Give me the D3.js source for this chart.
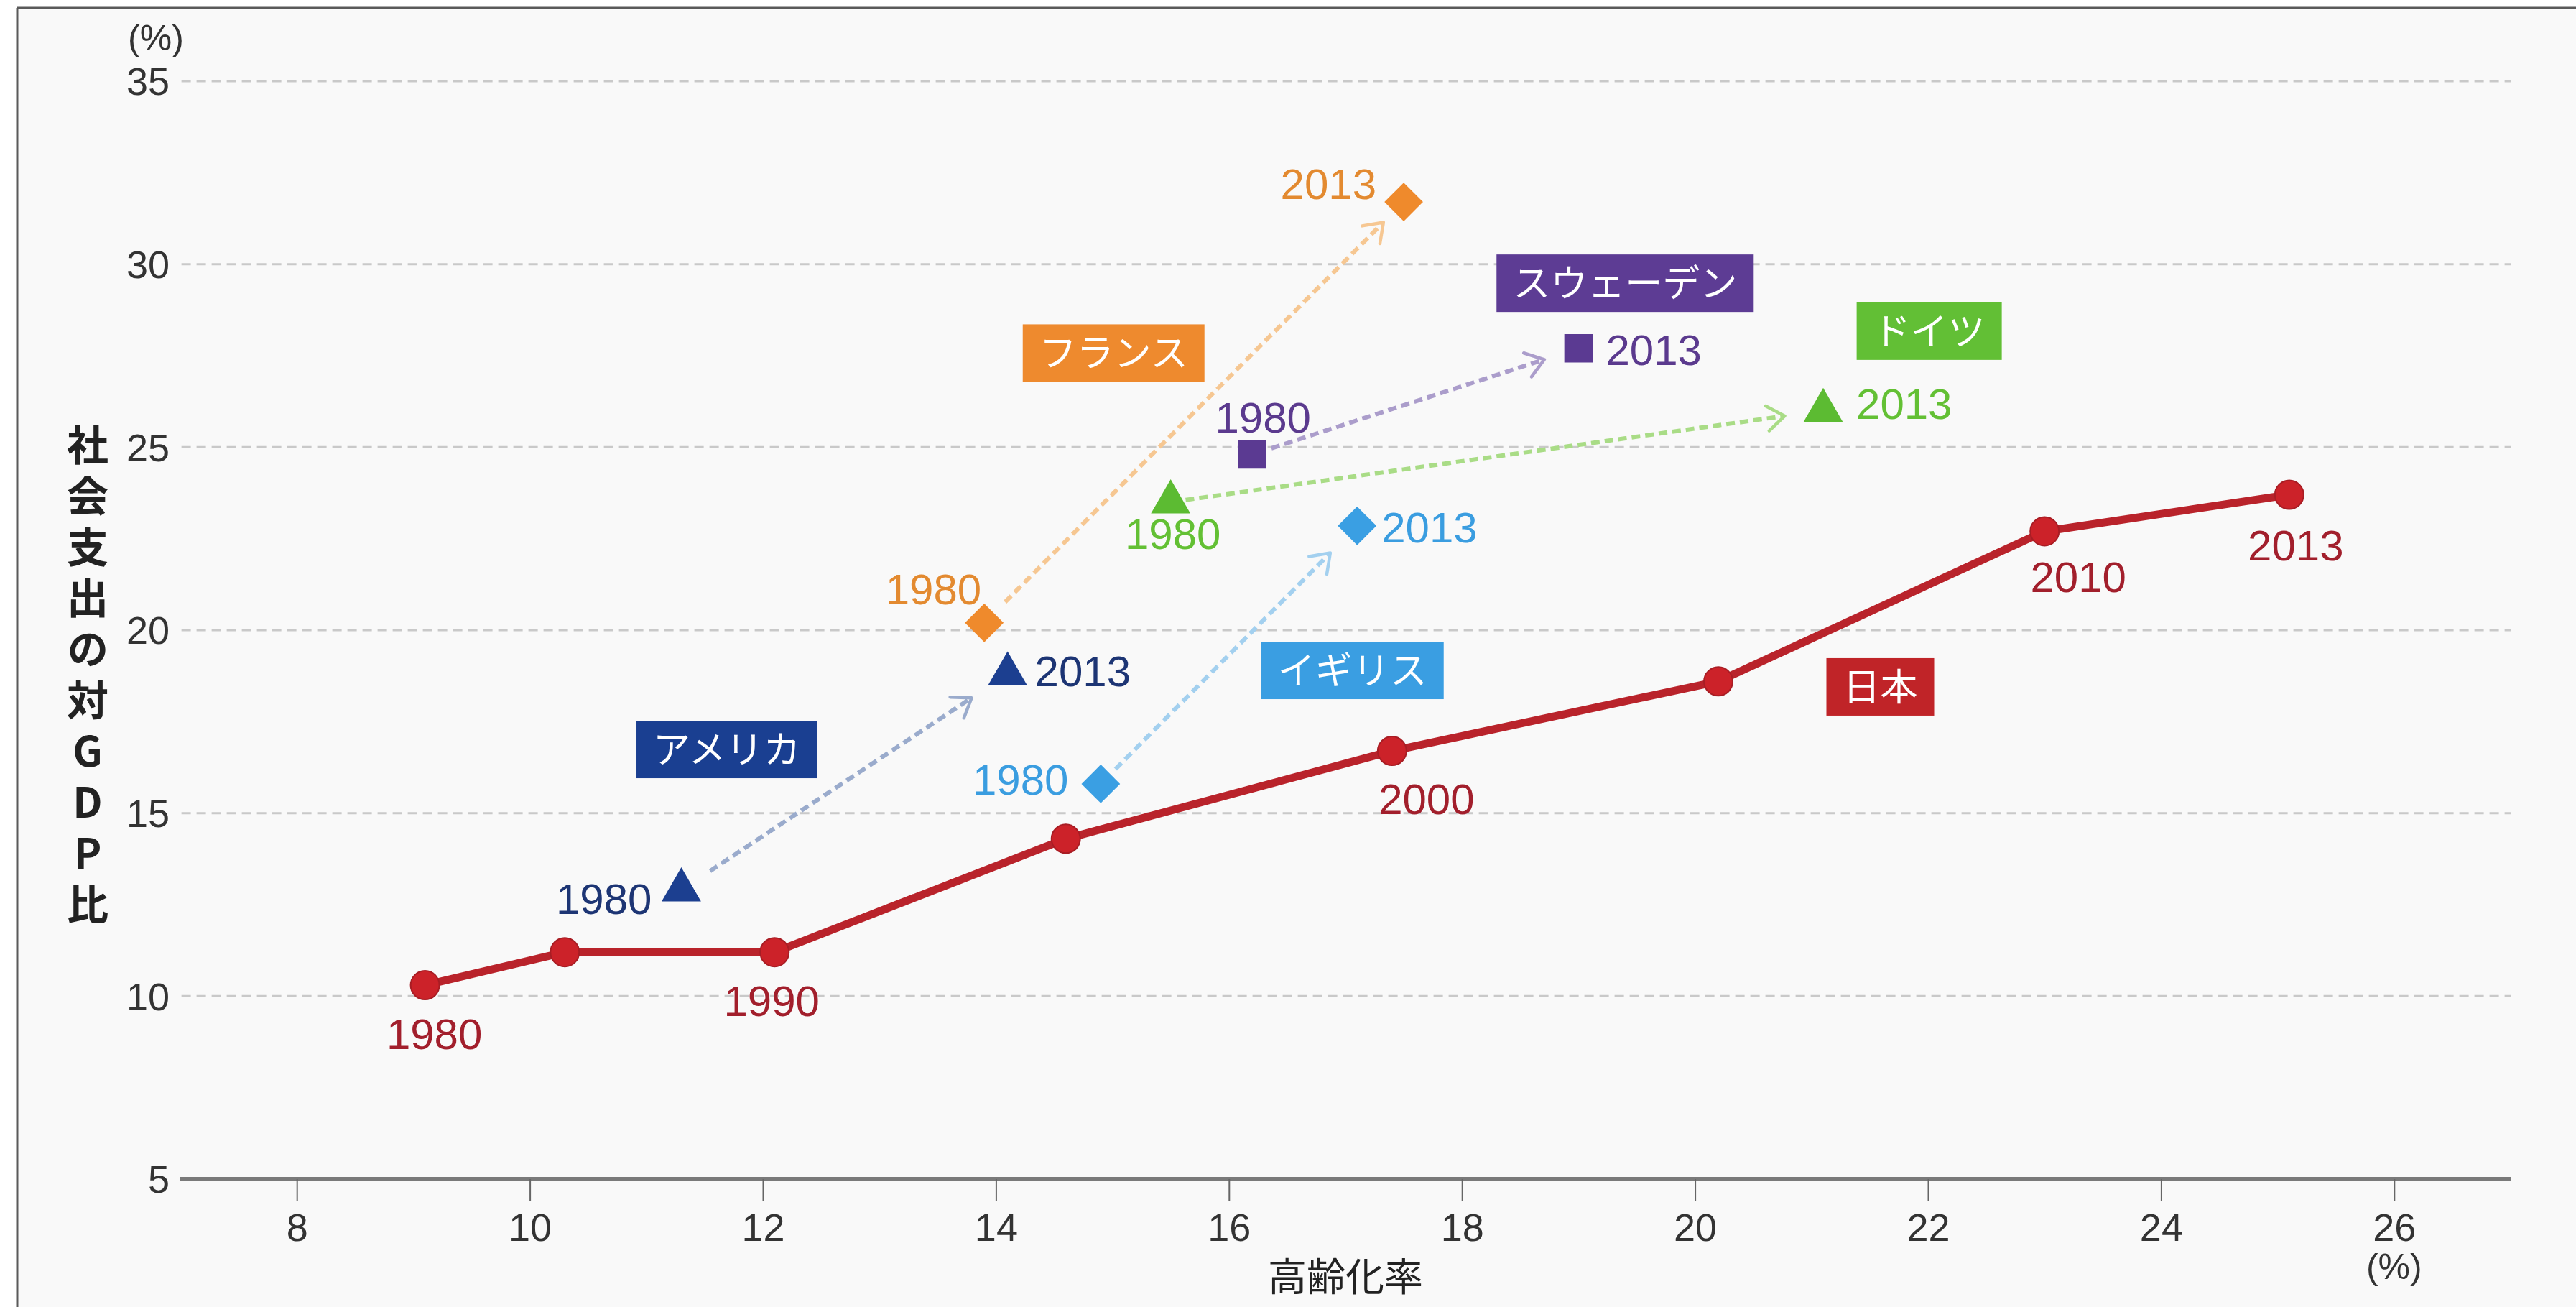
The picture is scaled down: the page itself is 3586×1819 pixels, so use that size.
<!DOCTYPE html>
<html>
<head>
<meta charset="utf-8">
<script src="https://cdn.jsdelivr.net/npm/d3@7"></script>
<style>
html,body{margin:0;padding:0;background:#ffffff;}
svg{display:block;}
text{font-family:"Liberation Sans","Noto Sans CJK JP",Arial,sans-serif;}
.jp{font-family:"Noto Sans CJK JP","Liberation Sans",sans-serif;}
.vt{font-family:"Noto Sans CJK JP",sans-serif;writing-mode:vertical-rl;text-orientation:upright;}
</style>
</head>
<body>
<svg id="chart" width="3586" height="1819"></svg>
<script>
// ---------- data ----------
const xTicks = [8, 10, 12, 14, 16, 18, 20, 22, 24, 26];
const yTicks = [5, 10, 15, 20, 25, 30, 35];

const japanYears = [1980, 1985, 1990, 1995, 2000, 2005, 2010, 2013];
const japanAging = [9.1, 10.3, 12.1, 14.6, 17.4, 20.2, 23.0, 25.1];
const japanSpend = [10.3, 11.2, 11.2, 14.3, 16.7, 18.6, 22.7, 23.7];
const japanLabelYears = [1980, 1990, 2000, 2010, 2013];

const countries = ["アメリカ", "フランス", "スウェーデン", "ドイツ", "イギリス"];
const aging1980 = [11.3, 13.9, 16.2, 15.5, 14.9];
const spend1980 = [12.9, 20.2, 24.8, 23.5, 15.8];
const aging2013 = [14.1, 17.5, 19.0, 21.1, 17.1];
const spend2013 = [18.8, 31.7, 27.7, 26.0, 22.85];
const yearLabels = ["1980", "2013"];

// ---------- style / annotation placement ----------
const W = 3586, H = 1819;
const markerShape = ["triangle", "diamond", "square", "triangle", "diamond"];
const markerColor = ["#1c3f90", "#ef8a2c", "#5b3a92", "#5cbb32", "#3a9fe3"];
const labelColor  = ["#1d3574", "#e38a30", "#5b3a8e", "#63c034", "#3a9de0"];
const arrowColor  = ["#9aabcc", "#f6c792", "#ab9dcb", "#a9dc86", "#a3d0ef"];
const boxColor    = ["#1a3f91", "#ee8a2e", "#5d3c94", "#62bf35", "#3a9ee2"];
const boxAtX = [11.69, 15.01, 19.40, 22.01, 17.06];
const boxAtY = [16.74, 27.57, 29.48, 28.17, 18.90];
const arrowGap = [[48, 60], [41, 40], [28, 50], [21, 54], [29, 53]];
// [anchor, dx, dy] for 1980 and 2013 labels
const lab1980 = [["end", -41, 33], ["end", -4, -26], ["middle", 15, -31], ["middle", 3, 65], ["end", -45, 15]];
const lab2013 = [["start", 38, 17], ["end", -38, -4], ["start", 38, 23], ["start", 46, 12], ["start", 34, 23]];
const japanLab = [[13, 89], [-4, 89], [48, 88], [47, 85], [9, 91]];

const svg = d3.select("#chart");

// background & frame
svg.append("rect").attr("x", 0).attr("y", 0).attr("width", W).attr("height", H).attr("fill", "#ffffff");
svg.append("rect").attr("x", 24).attr("y", 11).attr("width", W - 24).attr("height", H - 11).attr("fill", "#f9f9f9");
svg.append("line").attr("x1", 24).attr("x2", W).attr("y1", 11).attr("y2", 11).attr("stroke", "#5a5a5a").attr("stroke-width", 3);
svg.append("line").attr("x1", 24).attr("x2", 24).attr("y1", 11).attr("y2", H).attr("stroke", "#5a5a5a").attr("stroke-width", 3);

const x = d3.scaleLinear().domain([7, 27]).range([251, 3495]);
const y = d3.scaleLinear().domain([5, 35]).range([1641, 113]);

// gridlines
svg.append("g").selectAll("line").data(yTicks.filter(d => d > 5)).join("line")
  .attr("x1", x(7.01)).attr("x2", x(27)).attr("y1", d => y(d)).attr("y2", d => y(d))
  .attr("stroke", "#c9c9c9").attr("stroke-width", 3).attr("stroke-dasharray", "13,8");

// y tick labels
svg.append("g").selectAll("text").data(yTicks).join("text")
  .attr("x", 236).attr("y", d => y(d)).attr("dy", "0.36em")
  .attr("text-anchor", "end").attr("font-size", 54).attr("fill", "#333")
  .text(d => d);

// x axis
const xAxis = d3.axisBottom(x).tickValues(xTicks).tickSize(30).tickPadding(18).tickFormat(d3.format("d"));
const gx = svg.append("g").attr("transform", `translate(0,${y(5)})`).call(xAxis);
gx.select(".domain").attr("stroke", "#7a7a7a").attr("stroke-width", 6).attr("d", `M${x(7)},0H${x(27)}`);
gx.selectAll(".tick line").attr("stroke", "#666").attr("stroke-width", 2);
gx.selectAll(".tick text").attr("font-size", 54).attr("fill", "#333")
  .attr("font-family", "Liberation Sans, Arial, sans-serif");

// axis units & titles
svg.append("text").attr("x", 217).attr("y", 70).attr("text-anchor", "middle").attr("font-size", 50).attr("fill", "#333").text("(%)");
svg.append("text").attr("x", x(26)).attr("y", 1780).attr("text-anchor", "middle").attr("font-size", 50).attr("fill", "#333").text("(%)");
svg.append("text").attr("class", "jp").attr("x", x(17)).attr("y", 1797).attr("text-anchor", "middle")
  .attr("font-size", 54).attr("fill", "#222").text("高齢化率");

svg.append("text").attr("class", "vt").attr("x", 122).attr("y", 590)
  .attr("font-size", 58).attr("font-weight", 600).attr("fill", "#222")
  .attr("letter-spacing", 13)
  .text("社会支出の対GDP比");

// ---------- country arrows ----------
const arrows = svg.append("g");
countries.forEach((c, i) => {
  const p0 = [x(aging1980[i]), y(spend1980[i])];
  const p1 = [x(aging2013[i]), y(spend2013[i])];
  const dx = p1[0] - p0[0], dy = p1[1] - p0[1];
  const len = Math.hypot(dx, dy);
  const ux = dx / len, uy = dy / len;
  const s = [p0[0] + ux * arrowGap[i][0], p0[1] + uy * arrowGap[i][0]];
  const e = [p1[0] - ux * arrowGap[i][1], p1[1] - uy * arrowGap[i][1]];
  arrows.append("line").attr("x1", s[0]).attr("y1", s[1]).attr("x2", e[0] - ux * 3).attr("y2", e[1] - uy * 3)
    .attr("stroke", arrowColor[i]).attr("stroke-width", 6).attr("stroke-dasharray", "12,7");
  const L = 30, th = 0.62;
  const pts = [-th, th].map(a => {
    const rx = Math.cos(a) * (-ux) - Math.sin(a) * (-uy);
    const ry = Math.sin(a) * (-ux) + Math.cos(a) * (-uy);
    return [e[0] + rx * L, e[1] + ry * L];
  });
  arrows.append("path")
    .attr("d", `M${pts[0][0]},${pts[0][1]}L${e[0]},${e[1]}L${pts[1][0]},${pts[1][1]}`)
    .attr("fill", "none").attr("stroke", arrowColor[i]).attr("stroke-width", 4.5)
    .attr("stroke-linecap", "round").attr("stroke-linejoin", "round");
});

// ---------- Japan line ----------
const japan = japanYears.map((yr, i) => ({yr, a: japanAging[i], s: japanSpend[i]}));
svg.append("path").datum(japan)
  .attr("d", d3.line().x(d => x(d.a)).y(d => y(d.s)))
  .attr("fill", "none").attr("stroke", "#b9232b").attr("stroke-width", 11).attr("stroke-linejoin", "round");
svg.append("g").selectAll("circle").data(japan).join("circle")
  .attr("cx", d => x(d.a)).attr("cy", d => y(d.s)).attr("r", 20)
  .attr("fill", "#cc2229").attr("stroke", "#a81d24").attr("stroke-width", 2);
svg.append("g").selectAll("text").data(japan.filter(d => japanLabelYears.includes(d.yr))).join("text")
  .attr("x", (d, i) => x(d.a) + japanLab[i][0]).attr("y", (d, i) => y(d.s) + japanLab[i][1])
  .attr("text-anchor", "middle").attr("font-size", 60).attr("fill", "#a21f2c")
  .text(d => d.yr);

// ---------- country markers ----------
const symType = {triangle: d3.symbolTriangle, diamond: d3.symbolSquare, square: d3.symbolSquare};
const symSize = {triangle: 1300, diamond: 1444, square: 1560};
const symRot = {triangle: 0, diamond: 45, square: 0};
const mk = svg.append("g");
countries.forEach((c, i) => {
  const sh = markerShape[i];
  const path = d3.symbol().type(symType[sh]).size(symSize[sh])();
  [[aging1980[i], spend1980[i], lab1980[i], yearLabels[0]], [aging2013[i], spend2013[i], lab2013[i], yearLabels[1]]]
    .forEach(([a, s, lab, yrTxt]) => {
      mk.append("path").attr("d", path)
        .attr("transform", `translate(${x(a)},${y(s)}) rotate(${symRot[sh]})`)
        .attr("fill", markerColor[i]);
      mk.append("text").attr("x", x(a) + lab[1]).attr("y", y(s) + lab[2])
        .attr("text-anchor", lab[0]).attr("font-size", 60).attr("fill", labelColor[i])
        .text(yrTxt);
    });
});

// ---------- country name boxes ----------
function nameBox(txt, ax, ay, color) {
  const g = svg.append("g").attr("transform", `translate(${x(ax)},${y(ay)})`);
  const rect = g.append("rect").attr("fill", color);
  const t = g.append("text").attr("class", "jp").attr("text-anchor", "middle").attr("dy", "0.36em")
    .attr("font-size", 52).attr("fill", "#ffffff").text(txt);
  const bb = t.node().getBBox();
  const w = bb.width + 46, h = 80;
  rect.attr("x", -w / 2).attr("y", -h / 2).attr("width", w).attr("height", h);
}
countries.forEach((c, i) => nameBox(c, boxAtX[i], boxAtY[i], boxColor[i]));
nameBox("日本", 21.59, 18.45, "#c02428");
</script>
</body>
</html>
